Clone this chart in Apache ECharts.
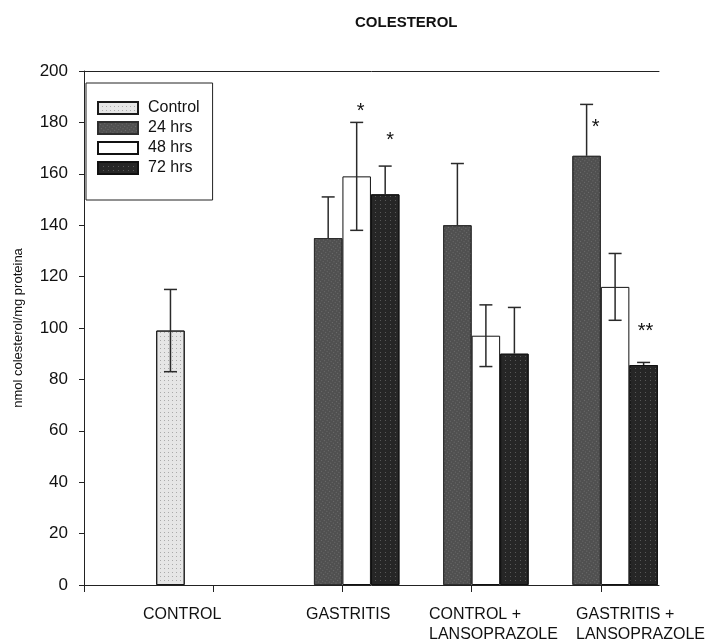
<!DOCTYPE html>
<html>
<head>
<meta charset="utf-8">
<script src="https://cdn.jsdelivr.net/npm/echarts@6/dist/echarts.min.js"></script>
<style>
  html, body { margin: 0; padding: 0; background: #fff; }
  #chart { width: 722px; height: 641px; }
</style>
</head>
<body>
<div id="chart"></div>
<script>
// ---- data ----
const categories = ['CONTROL', 'GASTRITIS', 'CONTROL +\nLANSOPRAZOLE', 'GASTRITIS +\nLANSOPRAZOLE'];
const seriesNames = ['Control', '24 hrs', '48 hrs', '72 hrs'];
// values per category (null = no bar)
const controlMean = [99, null, null, null];
const h24Mean     = [null, 135, 140, 167];
const h48Mean     = [null, 159, 97, 116];
const h72Mean     = [null, 152, 90, 85.6];
const controlErr  = [16, null, null, null];
const h24Err      = [null, 16, 24, 20];
const h48Err      = [null, 21, 12, 13];
const h72Err      = [null, 11, 18, 1];
// significance marks: [categoryIndex, seriesIndex, label y value, text]
const sigMarks = [
  [1, 2, 186, '*'],
  [1, 3, 175, '*'],
  [3, 1, 180, '*'],
  [3, 3, 100.5, '**']
];
const yTicks = [0, 20, 40, 60, 80, 100, 120, 140, 160, 180, 200];

// ---- layout constants ----
const BAR_W = 28.5;
const labelAnchors = [0.457, 1.718, 2.67, 3.808];
const FONT = '"Liberation Sans", Arial, sans-serif';

const means = [controlMean, h24Mean, h48Mean, h72Mean];
const errs  = [controlErr, h24Err, h48Err, h72Err];
const colors = ['#e6e6e6', '#505050', '#ffffff', '#262626'];
const borders = ['#1a1a1a', '#2e2e2e', '#111111', '#111111'];
const fullErr = [true, false, true, false];
const decals = [
  { symbol: 'rect', symbolSize: 1, dashArrayX: [1, 3], dashArrayY: [1, 3], color: 'rgba(120,120,120,0.55)' },
  { symbol: 'rect', symbolSize: 1, dashArrayX: [1, 2], dashArrayY: [1, 2], color: 'rgba(140,140,140,0.5)', rotation: 0.6 },
  'none',
  { symbol: 'rect', symbolSize: 1, dashArrayX: [1, 4], dashArrayY: [1, 3], color: 'rgba(150,150,150,0.45)' }
];

function pos(i) { return i + 1; } // category i sits on tick i+1

const barSeries = seriesNames.map((name, s) => ({
  name: name,
  type: 'bar',
  xAxisIndex: 0,
  barWidth: BAR_W,
  barGap: '0%',
  clip: false,
  data: means[s].map((v, i) => v == null ? null : [pos(i), v]).filter(d => d),
  itemStyle: {
    color: colors[s],
    borderColor: borders[s],
    borderWidth: 1,
    decal: decals[s] === 'none' ? undefined : decals[s]
  },
  z: 2
}));

const errData = [];
means.forEach((arr, s) => arr.forEach((v, i) => {
  if (v != null) errData.push([pos(i), v - errs[s][i], v + errs[s][i], s]);
}));

const errSeries = {
  type: 'custom',
  xAxisIndex: 0,
  data: errData,
  z: 5,
  silent: true,
  encode: { x: 0, y: [1, 2] },
  renderItem: function (params, api) {
    const s = api.value(3);
    const off = (s - 1.5) * BAR_W;
    const lo = api.coord([api.value(0), api.value(1)]);
    const hi = api.coord([api.value(0), api.value(2)]);
    const mid = api.coord([api.value(0), means[s][api.value(0) - 1]]);
    const x = lo[0] + off;
    const cap = 6.5;
    const style = { stroke: '#2a2a2a', lineWidth: 1.5 };
    const ch = [];
    const yStart = fullErr[s] ? lo[1] : mid[1];
    ch.push({ type: 'line', shape: { x1: x, y1: yStart, x2: x, y2: hi[1] }, style: style });
    ch.push({ type: 'line', shape: { x1: x - cap, y1: hi[1], x2: x + cap, y2: hi[1] }, style: style });
    if (fullErr[s]) {
      ch.push({ type: 'line', shape: { x1: x - cap, y1: lo[1], x2: x + cap, y2: lo[1] }, style: style });
    }
    return { type: 'group', children: ch };
  }
};

const markShift = { '1-2': 4, '1-3': 5, '3-1': 9, '3-3': 2 };
const sigSeries = {
  type: 'custom',
  xAxisIndex: 0,
  data: sigMarks.map(m => [pos(m[0]), m[2], m[1], m[3]]),
  z: 6,
  silent: true,
  encode: { x: 0, y: 1 },
  renderItem: function (params, api) {
    const s = api.value(2);
    const p = api.coord([api.value(0), api.value(1)]);
    const key = (api.value(0) - 1) + '-' + s;
    const x = p[0] + (s - 1.5) * BAR_W + (markShift[key] || 0);
    return {
      type: 'text',
      style: {
        x: x, y: p[1] + 5,
        text: sigMarks[params.dataIndex][3],
        fill: '#111',
        font: '20px ' + FONT,
        textAlign: 'center',
        textVerticalAlign: 'middle'
      }
    };
  }
};

const chart = echarts.init(document.getElementById('chart'), null, { renderer: 'canvas' });
chart.setOption({
  backgroundColor: '#ffffff',
  animation: false,
  title: {
    text: 'COLESTEROL',
    left: 350, top: 10,
    textStyle: { fontFamily: FONT, fontSize: 15, fontWeight: 'bold', color: '#111' }
  },
  legend: {
    orient: 'vertical',
    left: 86, top: 83,
    data: seriesNames,
    itemWidth: 40, itemHeight: 12, itemGap: 4,
    padding: [17, 13, 24, 11],
    borderColor: '#222', borderWidth: 1,
    backgroundColor: '#fff',
    icon: 'rect',
    textStyle: { fontFamily: FONT, fontSize: 16, color: '#111', padding: [0, 0, 0, 5] },
    z: 10
  },
  grid: { left: 84, right: 63, top: 71, bottom: 56, outerBoundsMode: 'none', containLabel: false },
  xAxis: [{
    type: 'value',
    min: 0, max: 4.45,
    axisLine: { show: true, lineStyle: { color: '#222', width: 1 } },
    axisTick: { show: true, customValues: [0, 1, 2, 3, 4], length: 7, lineStyle: { color: '#222' } },
    axisLabel: {
      customValues: labelAnchors,
      formatter: function (v) {
        let best = 0;
        labelAnchors.forEach((a, i) => { if (Math.abs(a - v) < Math.abs(labelAnchors[best] - v)) best = i; });
        return categories[best];
      },
      align: 'left',
      margin: 20,
      fontFamily: FONT, fontSize: 16, color: '#111', lineHeight: 20
    },
    splitLine: { show: false }
  }, {
    type: 'value',
    position: 'top',
    min: 0, max: 4.45,
    axisLine: { show: true, lineStyle: { color: '#222', width: 1 } },
    axisTick: { show: false },
    axisLabel: { show: false },
    splitLine: { show: false }
  }],
  yAxis: {
    type: 'value',
    min: 0, max: 200, interval: 20,
    name: 'nmol colesterol/mg proteina',
    nameLocation: 'middle',
    nameGap: 59,
    nameRotate: 90,
    nameTextStyle: { fontFamily: FONT, fontSize: 13, color: '#111' },
    axisLine: { show: true, lineStyle: { color: '#222', width: 1 } },
    axisTick: { show: true, length: 5, lineStyle: { color: '#222' } },
    axisLabel: {
      fontFamily: FONT, fontSize: 17, color: '#111', margin: 16,
      formatter: function (v) { return yTicks.indexOf(v) >= 0 ? String(v) : ''; }
    },
    splitLine: { show: false }
  },
  series: barSeries.concat([errSeries, sigSeries])
});
</script>
</body>
</html>
